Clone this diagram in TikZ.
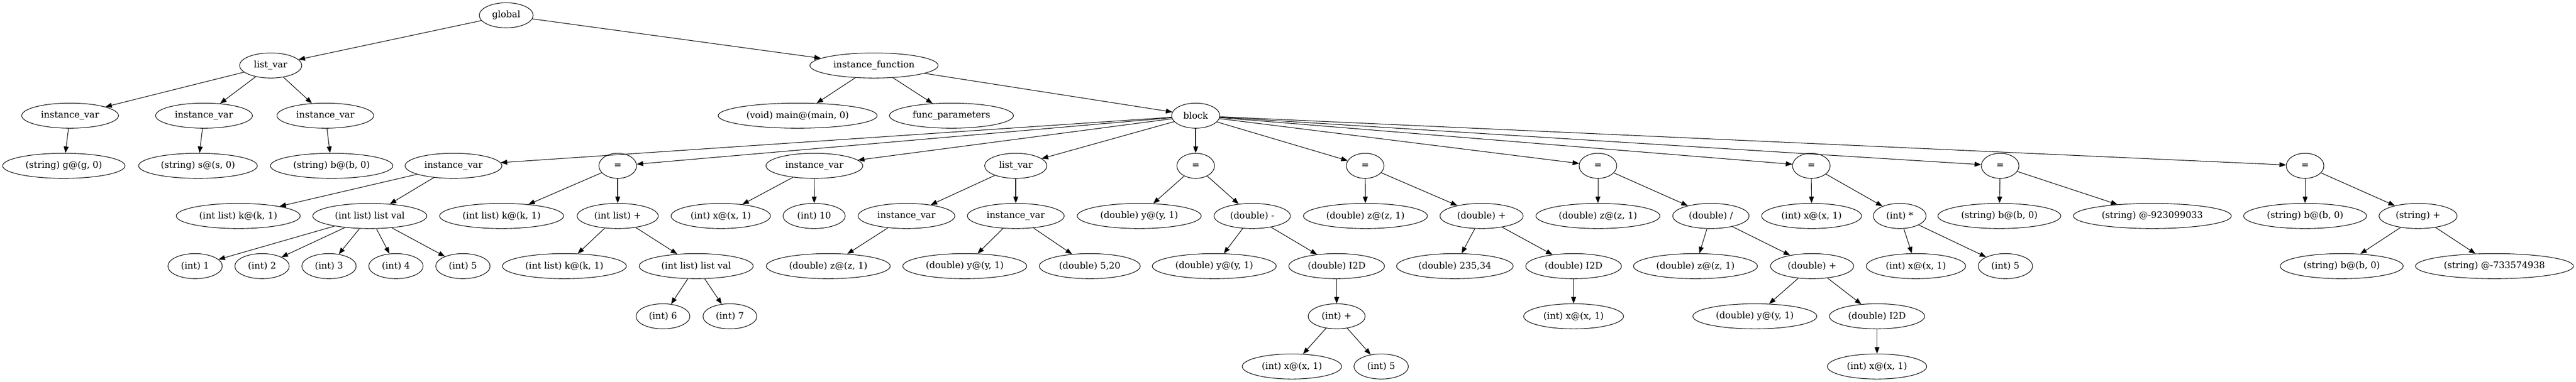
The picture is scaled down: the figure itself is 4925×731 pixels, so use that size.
\documentclass[tikz,border=0pt]{standalone}
\usepackage{fontspec}
\setmainfont{DejaVu Serif}
\usetikzlibrary{shapes.geometric,arrows.meta}
\begin{document}
\begin{tikzpicture}[x=0.75pt,y=-0.75pt,
        every node/.style={draw,ellipse,line width=0.8pt,inner sep=0pt,minimum height=36pt,
            font=\fontsize{13}{15}\selectfont},
        nw/.style={minimum width=#1*0.75pt},
        every edge/.style={draw,line width=0.8pt,-{Triangle[length=9.3pt,width=7pt]}}]
    \useasboundingbox (0,0) rectangle (4925,731);
    \node[nw=103] (global) at (967.8,29.3) {global};
    \node[nw=119] (listvar) at (517.5,125.3) {list\_var};
    \node[nw=245] (instfun) at (1671,125.3) {instance\_function};
    \node[nw=185] (iv1) at (134,221.3) {instance\_var};
    \node[nw=185] (iv2) at (390,221.3) {instance\_var};
    \node[nw=185] (iv3) at (622,221.3) {instance\_var};
    \node[nw=304] (mainfn) at (1525,221.3) {(void) main@(main, 0)};
    \node[nw=237] (params) at (1819,221.3) {func\_parameters};
    \node[nw=92] (block) at (2286,221.3) {block};
    \node[nw=234] (strg) at (122,317.3) {(string) g@(g, 0)};
    \node[nw=227] (strs) at (378.5,317.3) {(string) s@(s, 0)};
    \node[nw=234] (strb) at (634,317.3) {(string) b@(b, 0)};
    \node[nw=185] (ivk) at (867,317.3) {instance\_var};
    \node[nw=72] (eqk) at (1181,317.3) {=};
    \node[nw=185] (ivx) at (1557,317.3) {instance\_var};
    \node[nw=119] (lv) at (1942,317.3) {list\_var};
    \node[nw=72] (eqy) at (2286,317.3) {=};
    \node[nw=72] (eqz) at (2610,317.3) {=};
    \node[nw=72] (eqzz) at (3055,317.3) {=};
    \node[nw=72] (eqx) at (3463,317.3) {=};
    \node[nw=72] (eqb) at (3824,317.3) {=};
    \node[nw=72] (eqbb) at (4407,317.3) {=};
    \node[nw=237] (kone) at (455.5,413.3) {(int list) k@(k, 1)};
    \node[nw=218] (klist) at (707,413.3) {(int list) list val};
    \node[nw=237] (ktwo) at (959,413.3) {(int list) k@(k, 1)};
    \node[nw=155] (kplus) at (1181,413.3) {(int list) +};
    \node[nw=190] (xone) at (1378,413.3) {(int) x@(x, 1)};
    \node[nw=119] (ten) at (1556.5,413.3) {(int) 10};
    \node[nw=185] (ivz) at (1733,413.3) {instance\_var};
    \node[nw=185] (ivy) at (1942,413.3) {instance\_var};
    \node[nw=237] (yone) at (2178,413.3) {(double) y@(y, 1)};
    \node[nw=146] (dminus) at (2394,413.3) {(double) -};
    \node[nw=237] (zone) at (2610.5,413.3) {(double) z@(z, 1)};
    \node[nw=159] (dplus) at (2832.5,413.3) {(double) +};
    \node[nw=237] (ztwo) at (3055,413.3) {(double) z@(z, 1)};
    \node[nw=146] (ddiv) at (3271,413.3) {(double) /};
    \node[nw=191] (xtwo) at (3463.5,413.3) {(int) x@(x, 1)};
    \node[nw=101] (imul) at (3632,413.3) {(int) *};
    \node[nw=235] (sbone) at (3822.5,413.3) {(string) b@(b, 0)};
    \node[nw=302] (snone) at (4115,413.3) {(string) @-923099033};
    \node[nw=235] (sbtwo) at (4407,413.3) {(string) b@(b, 0)};
    \node[nw=149] (splus) at (4623,413.3) {(string) +};
    \node[nw=104] (ione) at (373,509.3) {(int) 1};
    \node[nw=104] (itwo) at (501,509.3) {(int) 2};
    \node[nw=104] (ithree) at (629,509.3) {(int) 3};
    \node[nw=104] (ifour) at (757,509.3) {(int) 4};
    \node[nw=104] (ifive) at (885,509.3) {(int) 5};
    \node[nw=237] (kthree) at (1079,509.3) {(int list) k@(k, 1)};
    \node[nw=218] (klisttwo) at (1331,509.3) {(int list) list val};
    \node[nw=237] (zthree) at (1583.5,509.3) {(double) z@(z, 1)};
    \node[nw=237] (ytwo) at (1844.5,509.3) {(double) y@(y, 1)};
    \node[nw=193] (dfive) at (2083.5,509.3) {(double) 5,20};
    \node[nw=237] (ythree) at (2321.5,509.3) {(double) y@(y, 1)};
    \node[nw=183] (itodone) at (2555.5,509.3) {(double) I2D};
    \node[nw=223] (dconst) at (2781.5,509.3) {(double) 235,34};
    \node[nw=183] (itodtwo) at (3008.5,509.3) {(double) I2D};
    \node[nw=237] (zfour) at (3241.5,509.3) {(double) z@(z, 1)};
    \node[nw=159] (dplustwo) at (3464.5,509.3) {(double) +};
    \node[nw=190] (xthree) at (3663,509.3) {(int) x@(x, 1)};
    \node[nw=104] (fiveone) at (3834,509.3) {(int) 5};
    \node[nw=235] (sbthree) at (4477,509.3) {(string) b@(b, 0)};
    \node[nw=302] (sntwo) at (4769,509.3) {(string) @-733574938};
    \node[nw=103] (isix) at (1267.5,605.3) {(int) 6};
    \node[nw=103] (iseven) at (1395.5,605.3) {(int) 7};
    \node[nw=109] (iplus) at (2555.5,605.3) {(int) +};
    \node[nw=191] (xfour) at (3008.5,605.3) {(int) x@(x, 1)};
    \node[nw=237] (yfour) at (3355,605.3) {(double) y@(y, 1)};
    \node[nw=182] (itodthree) at (3588.6,605.3) {(double) I2D};
    \node[nw=190] (xfive) at (2470,701.3) {(int) x@(x, 1)};
    \node[nw=104] (fivetwo) at (2640.6,701.3) {(int) 5};
    \node[nw=190] (xsix) at (3588.6,701.3) {(int) x@(x, 1)};
    \path (global) edge (listvar) edge (instfun);
    \path (listvar) edge (iv1) edge (iv2) edge (iv3);
    \path (iv1) edge (strg);
    \path (iv2) edge (strs);
    \path (iv3) edge (strb);
    \path (instfun) edge (mainfn) edge (params) edge (block);
    \path (block) edge (ivk) edge (eqk) edge (ivx) edge (lv) edge (eqy)
        edge (eqz) edge (eqzz) edge (eqx) edge (eqb) edge (eqbb);
    \path (ivk) edge (kone) edge (klist);
    \path (klist) edge (ione) edge (itwo) edge (ithree) edge (ifour) edge (ifive);
    \path (eqk) edge (ktwo) edge (kplus);
    \path (kplus) edge (kthree) edge (klisttwo);
    \path (klisttwo) edge (isix) edge (iseven);
    \path (ivx) edge (xone) edge (ten);
    \path (lv) edge (ivz) edge (ivy);
    \path (ivz) edge (zthree);
    \path (ivy) edge (ytwo) edge (dfive);
    \path (eqy) edge (yone) edge (dminus);
    \path (dminus) edge (ythree) edge (itodone);
    \path (itodone) edge (iplus);
    \path (iplus) edge (xfive) edge (fivetwo);
    \path (eqz) edge (zone) edge (dplus);
    \path (dplus) edge (dconst) edge (itodtwo);
    \path (itodtwo) edge (xfour);
    \path (eqzz) edge (ztwo) edge (ddiv);
    \path (ddiv) edge (zfour) edge (dplustwo);
    \path (dplustwo) edge (yfour) edge (itodthree);
    \path (itodthree) edge (xsix);
    \path (eqx) edge (xtwo) edge (imul);
    \path (imul) edge (xthree) edge (fiveone);
    \path (eqb) edge (sbone) edge (snone);
    \path (eqbb) edge (sbtwo) edge (splus);
    \path (splus) edge (sbthree) edge (sntwo);
\end{tikzpicture}
\end{document}
